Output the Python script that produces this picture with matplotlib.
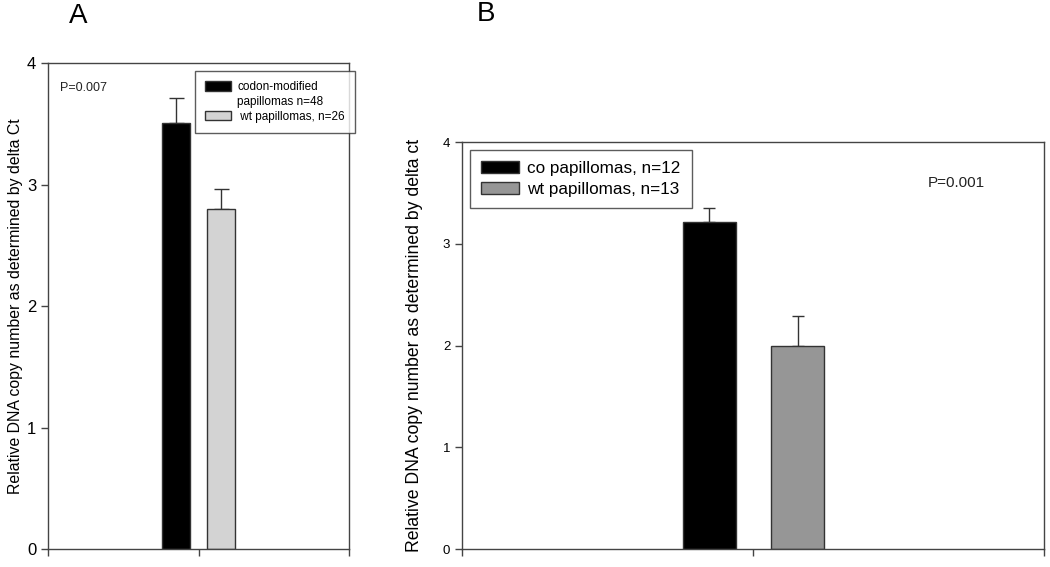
import matplotlib.pyplot as plt
from matplotlib.patches import Patch

plt.rcParams['font.family'] = ['Liberation Sans', 'DejaVu Sans']

# panel A
a_labels = ['codon-modified', 'papillomas n=48', ' wt papillomas, n=26']
a_means = [3.51, 2.80]
a_err = [0.20, 0.16]
a_colors = ['black', '#d3d3d3']
a_pos = [0.85, 1.15]

# panel B
b_labels = ['co papillomas, n=12', 'wt papillomas, n=13']
b_means = [3.21, 2.00]
b_err = [0.14, 0.29]
b_colors = ['black', '#969696']
b_pos = [0.85, 1.153]

ylab_a = 'Relative DNA copy number as determined by delta Ct'
ylab_b = 'Relative DNA copy number as determined by delta ct'

fig = plt.figure(figsize=(10.5, 5.67), dpi=100)
axA = fig.add_axes([0.0457, 0.0317, 0.2867, 0.857])
axB = fig.add_axes([0.44, 0.0317, 0.5543, 0.7178])

spine_c = '#444444'
edge_c = '#333333'


def style(ax, tick_fs):
    for s in ax.spines.values():
        s.set_color(spine_c)
        s.set_linewidth(1.0)
    ax.set_xlim(0, 2)
    ax.set_ylim(0, 4)
    ax.set_xticks([0, 1, 2])
    ax.set_xticklabels([])
    ax.set_yticks([0, 1, 2, 3, 4])
    ax.tick_params(axis='both', direction='out', length=5, width=1.0,
                   color=spine_c, labelsize=tick_fs)


style(axA, 12)
axA.bar(a_pos, a_means, width=0.187, color=a_colors, edgecolor=edge_c,
        linewidth=1.0, zorder=2)
axA.errorbar(a_pos, a_means, yerr=[[0, 0], a_err], fmt='none',
             ecolor=edge_c, elinewidth=1.0, capsize=5.4, capthick=1.0,
             zorder=1)
axA.set_ylabel(ylab_a, fontsize=11.4, labelpad=3)
axA.text(0.04, 0.949, 'P=0.007', transform=axA.transAxes, fontsize=9,
         va='center', color='#222222')
hA = [Patch(facecolor=a_colors[0], edgecolor=edge_c, linewidth=1.0),
      Patch(facecolor='none', edgecolor='none'),
      Patch(facecolor=a_colors[1], edgecolor=edge_c, linewidth=1.0)]
legA = axA.legend(hA, a_labels, loc='upper left',
                  bbox_to_anchor=(0.488, 0.984), fontsize=8.5, frameon=True,
                  fancybox=False, edgecolor=edge_c, handlelength=2.25,
                  handleheight=0.85, borderpad=0.85, labelspacing=0.25,
                  handletextpad=0.5, borderaxespad=0)
legA.get_frame().set_linewidth(1.0)
legA.set_zorder(5)

style(axB, 9.5)
axB.bar(b_pos, b_means, width=0.182, color=b_colors, edgecolor=edge_c,
        linewidth=1.0, zorder=2)
axB.errorbar(b_pos, b_means, yerr=[[0, 0], b_err], fmt='none',
             ecolor=edge_c, elinewidth=1.0, capsize=4.3, capthick=1.0,
             zorder=1)
axB.set_ylabel(ylab_b, fontsize=12.7, labelpad=14)
axB.text(0.8, 0.899, 'P=0.001', transform=axB.transAxes, fontsize=11,
         va='center', color='#222222')
hB = [Patch(facecolor=c, edgecolor=edge_c, linewidth=1.0) for c in b_colors]
legB = axB.legend(hB, b_labels, loc='upper left',
                  bbox_to_anchor=(0.0137, 0.981), fontsize=12.3, frameon=True,
                  fancybox=False, edgecolor=edge_c, handlelength=2.2,
                  handleheight=0.72, borderpad=0.65, labelspacing=0.35,
                  handletextpad=0.5, borderaxespad=0)
legB.get_frame().set_linewidth(1.0)

fig.text(0.074, 0.972, 'A', fontsize=20, ha='center', va='center')
fig.text(0.463, 0.975, 'B', fontsize=20, ha='center', va='center')

fig.savefig('out.png', dpi=100)
